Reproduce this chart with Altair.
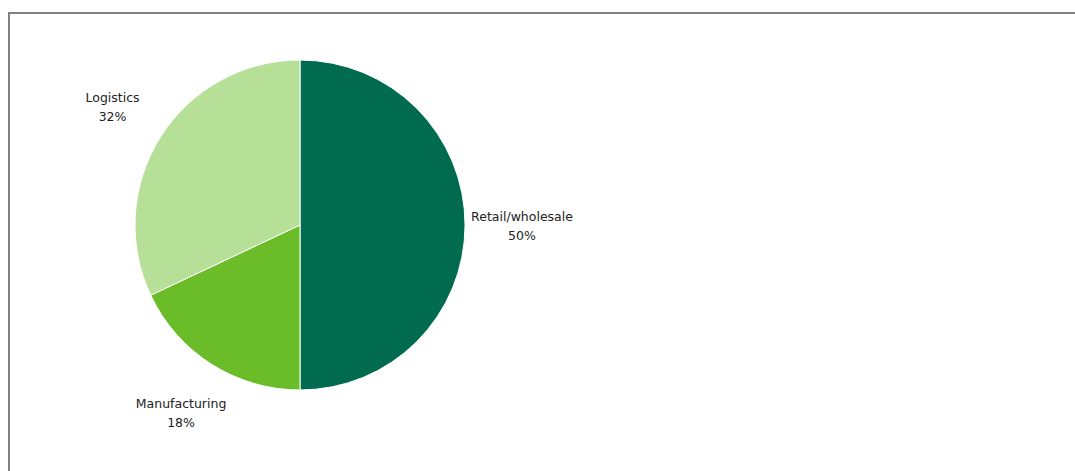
import altair as alt
import pandas as pd

categories = ["Retail/wholesale", "Manufacturing", "Logistics"]
shares = [50, 18, 32]
colors = ["#006B4E", "#6ABD28", "#B6DF97"]

df = pd.DataFrame({
    "category": categories,
    "share": shares,
    "order": list(range(len(categories))),
    "label": [f"{c}\n{s}%" for c, s in zip(categories, shares)],
})

base = alt.Chart(df).encode(
    theta=alt.Theta("share:Q", stack=True),
    order=alt.Order("order:Q"),
)

pie = base.mark_arc(outerRadius=165, stroke="white", strokeWidth=1).encode(
    x=alt.value(300),
    y=alt.value(225),
    color=alt.Color("category:N", scale=alt.Scale(domain=categories, range=colors), legend=None),
)

labels = base.mark_text(
    radius=222, fontSize=12.5, font="DejaVu Sans", align="center", baseline="middle",
    lineBreak="\n", color="#222222", lineHeight=19, dy=-8,
).encode(
    x=alt.value(300),
    y=alt.value(225),
    text="label:N",
)

frame = alt.Chart(pd.DataFrame({"a": [0]})).mark_rect(
    fillOpacity=0, stroke="#808080", strokeWidth=2
).encode(
    x=alt.value(9), x2=alt.value(1110), y=alt.value(13), y2=alt.value(520)
)

chart = alt.layer(frame, pie, labels).properties(
    width=1075, height=471, autosize="none", padding=0, background="white"
).configure_view(strokeWidth=0)

chart.save("out.html", embed_options={"renderer": "svg", "actions": False})
